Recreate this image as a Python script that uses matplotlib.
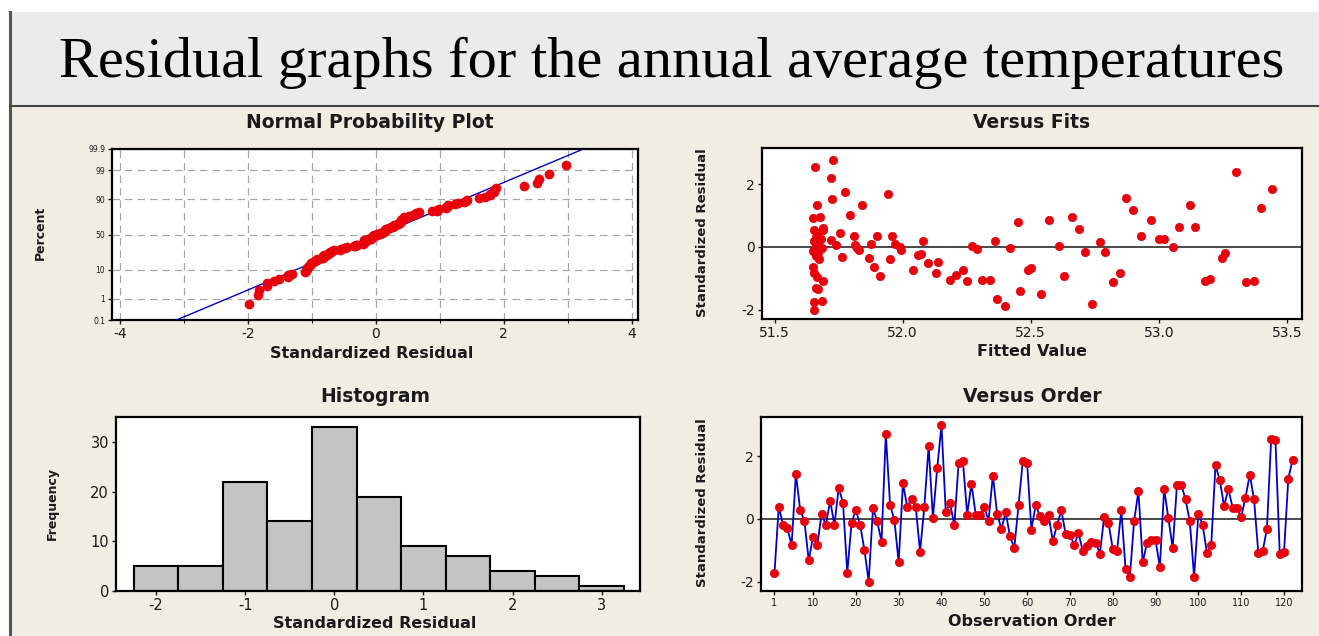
"""
Minitab-style four-in-one residual plots for the annual average temperatures.
Writes out.png (1319x636).
"""

from statistics import NormalDist

import matplotlib
matplotlib.use("Agg")
import matplotlib.pyplot as plt
from matplotlib.lines import Line2D
from matplotlib.patches import Rectangle
import numpy as np

W, H = 1319, 636

TITLE = "Residual graphs for the annual average temperatures"

# standardized residuals in observation order
ORDER_RESID = [
    -1.71, 0.39, -0.19, -0.29, -0.83, 1.43, 0.29, -0.08, -1.32, -0.56,
    -0.83, 0.16, -0.19, 0.58, -0.19, 0.99, 0.51, -1.71, -0.12, 0.29,
    -0.19, -0.98, -1.99, 0.34, -0.08, -0.72, 2.70, 0.44, -0.03, -1.38,
    1.13, 0.39, 0.63, 0.37, -1.04, 0.39, 2.32, 0.02, 1.61, 2.98,
    0.23, 0.50, -0.20, 1.78, 1.85, 0.14, 1.12, 0.13, 0.12, 0.38,
    -0.05, 1.38, 0.16, -0.32, 0.21, -0.55, -0.93, 0.44, 1.85, 1.78,
    -0.34, 0.44, 0.10, -0.05, 0.14, -0.70, -0.19, 0.27, -0.48, -0.50,
    -0.83, -0.45, -1.02, -0.85, -0.73, -0.75, -1.10, 0.07, -0.12, -0.95,
    -1.02, 0.27, -1.60, -1.83, -0.05, 0.88, -1.38, -0.76, -0.66, -0.68,
    -1.52, 0.95, 0.02, -0.93, 1.09, 1.09, 0.62, -0.08, -1.84, 0.16,
    -0.19, -1.08, -0.82, 1.71, 1.23, 0.41, 0.95, 0.36, 0.34, 0.07,
    0.68, 1.41, 0.62, -1.08, -1.03, -0.33, 2.55, 2.52, -1.11, -1.06,
    1.28, 1.88,
]

# Versus Fits panel: fitted value and standardized residual
FIT_X = [
    51.658, 51.73, 51.72, 51.725, 51.775, 51.665, 51.795, 51.843, 51.942, 51.649,
    51.678, 51.655, 51.665, 51.67, 51.66, 51.68, 51.655, 51.67, 51.66, 51.685,
    51.65, 51.67, 51.66, 51.69, 51.675, 51.65, 51.655, 51.665, 51.66, 51.67,
    51.69, 51.655, 51.685, 51.655, 51.755, 51.69, 51.72, 51.74, 51.762, 51.81,
    51.815, 51.82, 51.83, 51.87, 51.875, 51.90, 51.89, 51.91, 51.95, 51.96,
    51.97, 51.99, 51.995, 52.04, 52.06, 52.07, 52.08, 52.10, 52.13, 52.14,
    52.185, 52.21, 52.235, 52.25, 52.27, 52.29, 52.31, 52.36, 52.34, 52.37,
    52.40, 52.42, 52.45, 52.46, 52.49, 52.50, 52.54, 52.57, 52.61, 52.63,
    52.66, 52.69, 52.71, 52.74, 52.77, 52.79, 52.82, 52.85, 52.87, 52.90,
    52.93, 52.97, 53.00, 53.02, 53.055, 53.08, 53.12, 53.14, 53.18, 53.20,
    53.245, 53.26, 53.30, 53.34, 53.37, 53.40, 53.44,
]
FIT_Y = [
    2.55, 2.78, 2.18, 1.51, 1.76, 1.33, 1.02, 1.33, 1.68, 0.91,
    0.94, 0.55, 0.45, 0.38, 0.30, 0.25, 0.18, 0.10, 0.02, -0.05,
    -0.12, -0.20, -0.30, 0.60, -0.40, -0.63, -0.84, -0.95, -1.31, -1.34,
    -1.10, -1.77, -1.74, -2.00, 0.43, 0.54, 0.21, 0.05, -0.31, 0.33,
    0.05, -0.05, -0.10, -0.36, 0.10, 0.34, -0.63, -0.94, -0.38, 0.34,
    0.10, -0.02, -0.10, -0.73, -0.26, -0.24, 0.20, -0.50, -0.84, -0.48,
    -1.05, -0.90, -0.73, -1.10, 0.02, -0.08, -1.05, 0.19, -1.07, -1.66,
    -1.89, -0.04, 0.80, -1.42, -0.73, -0.66, -1.50, 0.86, 0.03, -0.94,
    0.96, 0.56, -0.15, -1.82, 0.14, -0.18, -1.13, -0.84, 1.57, 1.17,
    0.36, 0.86, 0.25, 0.25, 0.01, 0.62, 1.33, 0.62, -1.10, -1.04,
    -0.36, -0.20, 2.37, -1.12, -1.08, 1.23, 1.83,
]

# Histogram panel
HIST_CENTERS = [-2.0, -1.5, -1.0, -0.5, 0.0, 0.5, 1.0, 1.5, 2.0, 2.5, 3.0]
HIST_COUNTS = [5, 5, 22, 14, 33, 19, 9, 7, 4, 3, 1]

# probability axis of the normal plot
PCT_TICKS = [0.1, 1, 10, 50, 90, 99, 99.9]
PCT_LABELS = ["0.1", "1", "10", "50", "90", "99", "99.9"]

ORDER_TICKS = [1, 10, 20, 30, 40, 50, 60, 70, 80, 90, 100, 110, 120]

RED = "#e8000b"
BLUE = "#0000c8"
PANEL_BG = "#f0ede3"
TXT = "#1a1a1a"

plt.rcParams["font.family"] = "DejaVu Sans"
plt.rcParams["axes.unicode_minus"] = False


def box(x0, y0, x1, y1):
    """pixel box (top-left origin) -> figure fraction rect"""
    return [x0 / W, 1 - y1 / H, (x1 - x0) / W, (y1 - y0) / H]


def ftext(x, y, s, **kw):
    kw.setdefault("color", TXT)
    fig.text(x / W, 1 - y / H, s, ha="center", va="center", **kw)


def style(ax, labelsize=10):
    ax.set_facecolor("white")
    for sp in ax.spines.values():
        sp.set_color("black")
        sp.set_linewidth(1.6)
    ax.tick_params(direction="out", length=3, width=1, colors=TXT,
                   labelsize=labelsize, pad=2)


fig = plt.figure(figsize=(W / 100, H / 100), dpi=100)
fig.patch.set_facecolor("white")

# background: grey header strip, beige chart panel, dark frame lines
fig.add_artist(Rectangle((10 / W, 1 - 106 / H), 1, 94 / H, transform=fig.transFigure,
                         facecolor="#ebebeb", edgecolor="none", zorder=0))
fig.add_artist(Rectangle((10 / W, 0), 1, 1 - 106 / H, transform=fig.transFigure,
                         facecolor=PANEL_BG, edgecolor="none", zorder=0))
fig.add_artist(Line2D([10 / W, 10 / W], [0, 1 - 12 / H], transform=fig.transFigure,
                      color="#555555", lw=2.2))
fig.add_artist(Line2D([10 / W, 1], [1 - 106 / H, 1 - 106 / H], transform=fig.transFigure,
                      color="#444444", lw=1.5))

fig.text(672 / W, 1 - 77 / H, TITLE, family="Liberation Serif", fontsize=42,
         ha="center", va="baseline", color="black")

# ---- Normal probability plot ----
nd = NormalDist()
ax = fig.add_axes(box(112, 149, 638, 320))
style(ax, labelsize=10)
res = np.sort(np.array(ORDER_RESID))
n = len(res)
z = [nd.inv_cdf(p) for p in (np.arange(1, n + 1) - 0.3) / (n + 0.4)]
zlo, zhi = nd.inv_cdf(0.001), nd.inv_cdf(0.999)
mu, sd = res.mean(), res.std(ddof=1)
ax.plot([mu + sd * zlo, mu + sd * zhi], [zlo, zhi], color=BLUE, lw=1, zorder=3)
ax.plot(res, z, "o", color=RED, ms=6.5, mec=RED, mew=0.5, zorder=4)
ax.set_xlim(-4.13, 4.1)
ax.set_ylim(zlo, zhi)
ax.set_xticks([-4, -2, 0, 2, 4])
ax.set_xticks(range(-4, 5), minor=True)
ax.set_yticks([nd.inv_cdf(p / 100) for p in PCT_TICKS])
ax.set_yticklabels(PCT_LABELS, fontsize=5.5)
ax.tick_params(which="minor", length=2, width=0.8)
ax.set_axisbelow(True)
ax.xaxis.grid(True, which="both", ls=(0, (6, 4)), color="#a8a8a8", lw=0.9)
ax.yaxis.grid(True, ls=(0, (6, 4)), color="#a8a8a8", lw=0.9)
ftext(370, 123, "Normal Probability Plot", fontsize=13.5, fontweight="bold")
ftext(372, 353, "Standardized Residual", fontsize=11.5, fontweight="bold")
ftext(40, 233, "Percent", fontsize=9, fontweight="bold", rotation=90)

# ---- Versus fits ----
ax = fig.add_axes(box(762, 148, 1302, 319))
style(ax, labelsize=10)
ax.axhline(0, color="#3a3a3a", lw=1.3, zorder=2)
ax.plot(FIT_X, FIT_Y, "o", color=RED, ms=6, mec=RED, mew=0.5, zorder=3)
ax.set_xlim(51.451, 53.559)
ax.set_ylim(-2.3, 3.15)
ax.set_xticks([51.5, 52.0, 52.5, 53.0, 53.5])
ax.set_xticklabels(["51.5", "52.0", "52.5", "53.0", "53.5"])
ax.set_yticks([-2, 0, 2])
ftext(1032, 123, "Versus Fits", fontsize=13.5, fontweight="bold")
ftext(1032, 352, "Fitted Value", fontsize=11.5, fontweight="bold")
ftext(702, 233, "Standardized Residual", fontsize=9.5, fontweight="bold", rotation=90)

# ---- Histogram ----
ax = fig.add_axes(box(116, 417, 640, 591))
style(ax, labelsize=10.5)
ax.bar(HIST_CENTERS, HIST_COUNTS, width=0.5, color="#c4c4c4",
       edgecolor="black", linewidth=1.5, zorder=2)
ax.set_xlim(-2.45, 3.43)
ax.set_ylim(0, 35)
ax.set_xticks([-2, -1, 0, 1, 2, 3])
ax.set_yticks([0, 10, 20, 30])
ftext(375, 397, "Histogram", fontsize=13.5, fontweight="bold")
ftext(375, 624, "Standardized Residual", fontsize=11.5, fontweight="bold")
ftext(52, 503, "Frequency", fontsize=9, fontweight="bold", rotation=90)

# ---- Versus order ----
ax = fig.add_axes(box(761, 417, 1302, 591))
style(ax, labelsize=10)
obs = np.arange(1, len(ORDER_RESID) + 1)
ax.axhline(0, color="#3a3a3a", lw=1.3, zorder=2)
ax.plot(obs, ORDER_RESID, "-", color=BLUE, lw=1.3, zorder=3)
ax.plot(obs, ORDER_RESID, "o", color=RED, ms=6, mec=RED, mew=0.5, zorder=4)
ax.set_xlim(-2.15, 124.2)
ax.set_ylim(-2.29, 3.24)
ax.set_xticks(ORDER_TICKS)
ax.tick_params(axis="x", labelsize=7)
ax.set_yticks([-2, 0, 2])
ftext(1032, 397, "Versus Order", fontsize=13.5, fontweight="bold")
ftext(1032, 621, "Observation Order", fontsize=11.5, fontweight="bold")
ftext(702, 503, "Standardized Residual", fontsize=9.5, fontweight="bold", rotation=90)

fig.savefig("out.png", dpi=100, facecolor=fig.get_facecolor())
plt.close(fig)
